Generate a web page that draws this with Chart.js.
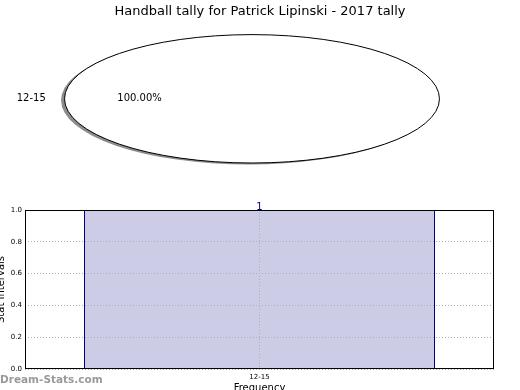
<!DOCTYPE html>
<html>
<head>
<meta charset="utf-8">
<script src="https://cdn.jsdelivr.net/npm/chart.js@4/dist/chart.umd.min.js"></script>
<style>
  body { margin: 0; background: #fff; }
  #wrap { position: relative; width: 520px; height: 390px; overflow: hidden; }
  #pieCanvas { position: absolute; left: 0; top: 0; }
  #barCanvas { position: absolute; left: 0; top: 195px; }
  #mark { position: absolute; left: 0; top: 373px; font: bold 10.5px "DejaVu Sans", sans-serif; color: #9a9a9a; }
</style>
</head>
<body>
<div id="wrap">
  <canvas id="pieCanvas" width="520" height="195"></canvas>
  <canvas id="barCanvas" width="520" height="195"></canvas>
  <div id="mark">Dream-Stats.com</div>
</div>
<script>
// chart data
const titleText = 'Handball tally for Patrick Lipinski - 2017 tally';
const categories = ['12-15'];
const counts = [1];
const yTicks = [0.0, 0.2, 0.4, 0.6, 0.8, 1.0];

// the pie is drawn squashed into an ellipse, sitting a little left of the title centre
const PIE_STRETCH = 2.92;
const PIE_SHIFT_X = -8;

const ellipsePie = {
    id: 'ellipsePie',
    beforeDatasetsDraw(chart) {
        const arc = chart.getDatasetMeta(0).data[0];
        const ctx = chart.ctx;
        const cx = arc.x + PIE_SHIFT_X;
        // matplotlib style shadow, shifted left and down
        ctx.save();
        ctx.fillStyle = 'rgba(0,0,0,0.45)';
        ctx.beginPath();
        ctx.ellipse(cx - 3.5, arc.y + 1.5, arc.outerRadius * PIE_STRETCH, arc.outerRadius, 0, 0, Math.PI * 2);
        ctx.fill();
        ctx.restore();
        ctx.save();
        ctx.translate(cx, arc.y);
        ctx.scale(PIE_STRETCH, 1);
        ctx.translate(-arc.x, -arc.y);
    },
    afterDatasetsDraw(chart) {
        const ctx = chart.ctx;
        ctx.restore();
        const meta = chart.getDatasetMeta(0);
        const total = counts.reduce((a, b) => a + b, 0);
        meta.data.forEach((arc, i) => {
            const cx = arc.x + PIE_SHIFT_X;
            const rx = arc.outerRadius * PIE_STRETCH;
            const ry = arc.outerRadius;
            ctx.save();
            ctx.strokeStyle = '#000';
            ctx.lineWidth = 1;
            ctx.beginPath();
            ctx.ellipse(cx, arc.y, rx, ry, 0, 0, Math.PI * 2);
            ctx.stroke();

            const mid = (arc.startAngle + arc.endAngle) / 2;
            ctx.fillStyle = '#000';
            ctx.font = '10px "DejaVu Sans", sans-serif';
            ctx.textBaseline = 'middle';
            ctx.textAlign = Math.cos(mid) < 0 ? 'right' : 'left';
            ctx.fillText(categories[i], cx + Math.cos(mid) * rx * 1.1, arc.y + Math.sin(mid) * ry * 1.1);
            ctx.textAlign = 'center';
            const pct = (counts[i] / total * 100).toFixed(2) + '%';
            ctx.fillText(pct, cx + Math.cos(mid) * rx * 0.6, arc.y + Math.sin(mid) * ry * 0.6);
            ctx.restore();
        });
    }
};

new Chart(document.getElementById('pieCanvas'), {
    type: 'pie',
    data: {
        labels: categories,
        datasets: [{
            data: counts,
            backgroundColor: '#ffffff',
            borderWidth: 0
        }]
    },
    options: {
        responsive: false,
        animation: false,
        rotation: 90,
        layout: { padding: { top: 0, right: 0, bottom: 32, left: 0 } },
        plugins: {
            legend: { display: false },
            tooltip: { enabled: false },
            title: {
                display: true,
                text: titleText,
                color: '#000',
                font: { family: 'DejaVu Sans', size: 13, weight: 'normal' },
                padding: { top: 4, bottom: 15 }
            }
        }
    },
    plugins: [ellipsePie]
});

const frameAndLabels = {
    id: 'frameAndLabels',
    afterDraw(chart) {
        const { ctx, chartArea } = chart;
        ctx.save();
        ctx.strokeStyle = '#000';
        ctx.lineWidth = 1;
        ctx.strokeRect(chartArea.left + 0.5, chartArea.top + 0.5, chartArea.width - 1, chartArea.height - 1);
        const meta = chart.getDatasetMeta(0);
        ctx.fillStyle = '#000080';
        ctx.font = '10px "DejaVu Sans", sans-serif';
        ctx.textAlign = 'center';
        ctx.textBaseline = 'alphabetic';
        meta.data.forEach((bar, i) => {
            ctx.fillText(String(counts[i]), bar.x, bar.y - 0.5);
        });
        ctx.restore();
    }
};

const dotted = {
    color: '#b0b0b0',
    lineWidth: 1,
    drawTicks: false,
    z: 1
};

new Chart(document.getElementById('barCanvas'), {
    type: 'bar',
    data: {
        labels: categories,
        datasets: [{
            data: counts,
            backgroundColor: 'rgb(204,204,230)',
            borderColor: '#000080',
            borderWidth: 1,
            borderSkipped: 'bottom',
            barPercentage: 351 / 469,
            categoryPercentage: 1.0
        }]
    },
    options: {
        responsive: false,
        animation: false,
        layout: { padding: { top: 15, right: 26, bottom: 0, left: 0 } },
        plugins: {
            legend: { display: false },
            tooltip: { enabled: false }
        },
        scales: {
            x: {
                grid: Object.assign({ offset: false }, dotted),
                border: { display: false, dash: [1, 2] },
                ticks: { color: '#000', font: { family: 'DejaVu Sans', size: 7 }, padding: 4 },
                title: {
                    display: true,
                    text: 'Frequency',
                    color: '#000',
                    font: { family: 'DejaVu Sans', size: 10 },
                    padding: { top: 0, bottom: -4.5 }
                },
                afterFit(scale) { scale.height = 21; }
            },
            y: {
                min: 0,
                max: 1,
                grid: dotted,
                border: { display: false, dash: [1, 2] },
                afterBuildTicks(scale) { scale.ticks = yTicks.map(v => ({ value: v })); },
                ticks: {
                    color: '#000',
                    font: { family: 'DejaVu Sans', size: 7 },
                    padding: 3,
                    callback: (v) => Number(v).toFixed(1)
                },
                title: {
                    display: true,
                    text: 'Stat Intervals',
                    color: '#000',
                    font: { family: 'DejaVu Sans', size: 10 },
                    padding: { top: -5, bottom: 0 }
                },
                afterFit(scale) { scale.width = 25; }
            }
        }
    },
    plugins: [frameAndLabels]
});
</script>
</body>
</html>
